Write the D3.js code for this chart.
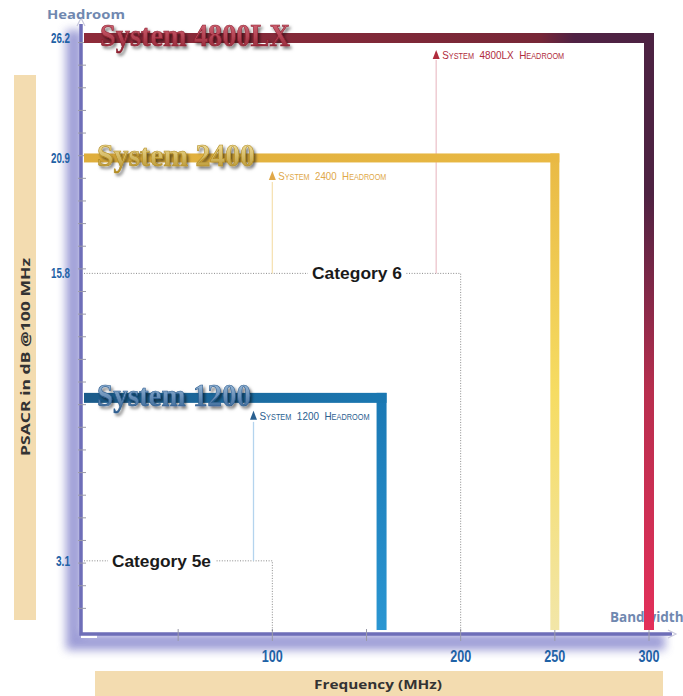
<!DOCTYPE html>
<html><head><meta charset="utf-8">
<script src="https://cdn.jsdelivr.net/npm/d3@7/dist/d3.min.js"></script>
<style>
html,body{margin:0;padding:0;background:#fff;}
svg{display:block;}
</style></head>
<body>
<svg id="chart" width="683" height="696"></svg>
<script>
// ---- data ----
const systems = ["System 4800LX", "System 2400", "System 1200"];
const systemPsacr = [26.2, 20.9, 10.3];
const systemBandwidth = [300, 250, 158];
const headroomFreq = [187, 100, 90];
const headroomLabels = ["System 4800LX Headroom", "System 2400 Headroom", "System 1200 Headroom"];
const categories = ["Category 6", "Category 5e"];
const categoryPsacr = [15.8, 3.1];
const categoryBandwidth = [200, 100];
const yTickLabels = [26.2, 20.9, 15.8, 3.1];
const xTickLabels = [100, 200, 250, 300];
const xMinorTicks = [50, 100, 150, 200, 250, 300];

// ---- styles ----
const sysStyle = [
  {w: 10,
   h: [[0, "#8e2b3a"], [0.8, "#772737"], [0.86, "#502244"], [1, "#4c2242"]],
   v: [[0, "#4c2242"], [0.27, "#4e2242"], [0.6, "#b82e4e"], [1, "#e3305a"]],
   txt: ["#e07080", "#8a1e2e"], label: "#b02c3c", line: "#ecc4cc", labelW: 190},
  {w: 9,
   h: [[0, "#dfae3c"], [1, "#e9b944"]],
   v: [[0, "#e9b944"], [0.5, "#f6dc62"], [1, "#f2e6a8"]],
   txt: ["#fff2b8", "#b08a20"], label: "#e0a848", line: "#f6e2b4", labelW: 158},
  {w: 10,
   h: [[0, "#1b5b8a"], [1, "#1a78b2"]],
   v: [[0, "#1a78b4"], [1, "#2a96d2"]],
   txt: ["#b0cce8", "#2a5a8c"], label: "#2a6090", line: "#b4d4ee", labelW: 154}
];

const svg = d3.select("#chart");
const x = d3.scaleLinear().domain([0, 300]).range([84, 649]);
const y = d3.scaleLinear().domain([0, 26.2]).range([631, 38]);

const defs = svg.append("defs");
const blur = defs.append("filter").attr("id", "glow").attr("x", "-20%").attr("y", "-20%").attr("width", "140%").attr("height", "140%");
blur.append("feGaussianBlur").attr("stdDeviation", 5);
const sh = defs.append("filter").attr("id", "tshadow").attr("x", "-10%").attr("y", "-30%").attr("width", "130%").attr("height", "170%");
sh.append("feDropShadow").attr("dx", 2).attr("dy", 2.5).attr("stdDeviation", 1.6).attr("flood-color", "#000").attr("flood-opacity", 0.55);

function lin(id, vertical, stops) {
  const g = defs.append("linearGradient").attr("id", id)
    .attr("x1", "0%").attr("y1", "0%").attr("x2", vertical ? "0%" : "100%").attr("y2", vertical ? "100%" : "0%");
  stops.forEach(s => g.append("stop").attr("offset", (s[0] * 100) + "%").attr("stop-color", s[1]));
}

const sans = "'Liberation Sans', 'Arimo', 'DejaVu Sans', sans-serif";
const humanist = "'Open Sans', 'DejaVu Sans', sans-serif";

// ---- axis-title boxes ----
svg.append("rect").attr("x", 14).attr("y", 75).attr("width", 22).attr("height", 545).attr("fill", "#f3dcb0");
svg.append("text").attr("transform", "translate(30,357) rotate(-90)")
  .attr("text-anchor", "middle").attr("font-family", humanist)
  .attr("font-weight", "bold").attr("font-size", 13).attr("fill", "#333")
  .attr("textLength", 198).attr("lengthAdjust", "spacingAndGlyphs").text("PSACR in dB @100 MHz");
svg.append("rect").attr("x", 95).attr("y", 671).attr("width", 568).attr("height", 25).attr("fill", "#f3dcb0");
svg.append("text").attr("x", 378).attr("y", 689).attr("text-anchor", "middle")
  .attr("font-family", humanist)
  .attr("font-weight", "bold").attr("font-size", 13).attr("fill", "#333")
  .attr("textLength", 128).attr("lengthAdjust", "spacingAndGlyphs").text("Frequency (MHz)");

// ---- axes with glow ----
const x0 = x(0) - 3, yb = y(0) + 3;
svg.append("path")
  .attr("d", `M${x0},22 L${x0},${yb} L672,${yb}`)
  .attr("fill", "none").attr("stroke", "#8484cc").attr("stroke-width", 16)
  .attr("transform", "translate(-7,8)").attr("filter", "url(#glow)").attr("opacity", 0.8);
svg.append("rect").attr("x", x0).attr("y", 0).attr("width", 16).attr("height", yb + 4).attr("fill", "#fff");
svg.append("rect").attr("x", x0).attr("y", yb - 16).attr("width", 620).attr("height", 16).attr("fill", "#fff");
svg.append("path")
  .attr("d", `M${x0},24 L${x0},${yb} L672,${yb}`)
  .attr("fill", "none").attr("stroke", "#6e6eb8").attr("stroke-width", 3.5);
// arrowheads
svg.append("path").attr("d", `M${x0 - 4},26 L${x0},18 L${x0 + 4},26`).attr("fill", "none").attr("stroke", "#c8c8dc").attr("stroke-width", 1.2);
svg.append("path").attr("d", `M668,${yb - 4} L676,${yb} L668,${yb + 4}`).attr("fill", "none").attr("stroke", "#c8c8dc").attr("stroke-width", 1.2);

// y minor ticks every 1 dB
svg.append("g").selectAll("line").data(d3.range(1, 27)).join("line")
  .attr("x1", x0 - 3).attr("x2", x0 + 5).attr("y1", d => y(d)).attr("y2", d => y(d))
  .attr("stroke", "#9a9aa8").attr("stroke-width", 1);
// x ticks
svg.append("g").selectAll("line").data(xMinorTicks).join("line")
  .attr("x1", d => x(d)).attr("x2", d => x(d)).attr("y1", yb - 5).attr("y2", yb + 7)
  .attr("stroke", "#9a9aa8").attr("stroke-width", 1);

// tick labels (condensed via textLength)
svg.append("g").selectAll("text").data(yTickLabels).join("text")
  .attr("x", 70).attr("y", d => y(d) + 5).attr("text-anchor", "end")
  .attr("font-family", sans).attr("font-weight", "bold").attr("font-size", 14)
  .attr("textLength", d => String(d).length === 4 ? 19 : 14).attr("lengthAdjust", "spacingAndGlyphs")
  .attr("fill", "#1f62a6").text(d => d);
svg.append("g").selectAll("text").data(xTickLabels).join("text")
  .attr("x", d => x(d)).attr("y", 662).attr("text-anchor", "middle")
  .attr("font-family", sans).attr("font-weight", "bold").attr("font-size", 16)
  .attr("textLength", 21).attr("lengthAdjust", "spacingAndGlyphs")
  .attr("fill", "#1f62a6").text(d => d);

// axis end labels
svg.append("text").attr("x", 47).attr("y", 19)
  .attr("font-family", humanist).attr("font-weight", "bold")
  .attr("font-size", 13).attr("fill", "#7088b0").attr("textLength", 78).attr("lengthAdjust", "spacingAndGlyphs").text("Headroom");
svg.append("text").attr("x", 610).attr("y", 622)
  .attr("font-family", humanist).attr("font-weight", "bold")
  .attr("font-size", 13.5).attr("fill", "#7088b0").text("Bandwidth");

// ---- category dotted limits ----
categories.forEach((c, i) => {
  const cy = y(categoryPsacr[i]), cx = x(categoryBandwidth[i]);
  svg.append("path").attr("d", `M${x0 + 3},${cy} L${cx},${cy} L${cx},${yb - 2}`)
    .attr("fill", "none").attr("stroke", "#8a8a8a").attr("stroke-width", 1).attr("stroke-dasharray", "1,1.6");
});

// ---- headroom vertical lines ----
systems.forEach((s, i) => {
  const hx = x(headroomFreq[i]);
  const lowPsacr = i === 2 ? categoryPsacr[1] : categoryPsacr[0];
  const top = y(systemPsacr[i]) + (i === 0 ? 22 : 24);
  svg.append("line").attr("x1", hx).attr("x2", hx).attr("y1", top).attr("y2", y(lowPsacr))
    .attr("stroke", sysStyle[i].line).attr("stroke-width", 1.3);
});

// ---- category labels with white background ----
const catLabelX = [312, 112];
const catLabelW = [90, 99];
categories.forEach((c, i) => {
  const cy = y(categoryPsacr[i]);
  const t = svg.append("text").attr("x", catLabelX[i]).attr("y", cy + 6)
    .attr("font-family", sans).attr("font-weight", "bold")
    .attr("font-size", 16.5).attr("fill", "#1a1a1a")
    .attr("textLength", catLabelW[i]).attr("lengthAdjust", "spacingAndGlyphs").text(c);
  svg.insert("rect", () => t.node()).attr("x", catLabelX[i] - 4).attr("y", cy - 8).attr("width", catLabelW[i] + 8).attr("height", 18).attr("fill", "#fff");
});

// ---- system bars ----
systems.forEach((s, i) => {
  const st = sysStyle[i];
  const sy = y(systemPsacr[i]), sx = x(systemBandwidth[i]), w = st.w;
  lin("h" + i, false, st.h);
  lin("v" + i, true, st.v);
  svg.append("rect").attr("x", sx - w / 2).attr("y", sy - w / 2).attr("width", w).attr("height", y(0) - (sy - w / 2) - 1)
    .attr("fill", `url(#v${i})`);
  svg.append("rect").attr("x", x(0)).attr("y", sy - w / 2).attr("width", sx + w / 2 - x(0)).attr("height", w)
    .attr("fill", `url(#h${i})`);
});

// ---- headroom labels (manual small caps) ----
const lens = [122, 108, 110];
systems.forEach((s, i) => {
  const st = sysStyle[i];
  const hx = x(headroomFreq[i]);
  const ly = y(systemPsacr[i]) + (i === 0 ? 21 : 22);
  svg.append("path").attr("d", `M${hx - 3.5},${ly} L${hx},${ly - 9} L${hx + 3.5},${ly} Z`).attr("fill", st.label);
  const t = svg.append("text").attr("x", hx + 6).attr("y", ly)
    .attr("font-family", sans).attr("fill", st.label)
    .attr("textLength", lens[i]).attr("lengthAdjust", "spacingAndGlyphs");
  headroomLabels[i].split("").forEach(ch => {
    const small = ch >= "a" && ch <= "z";
    t.append("tspan").attr("font-size", small ? 8.5 : 11.5).text(small ? ch.toUpperCase() : (ch === " " ? "\u00a0\u00a0" : ch));
  });
});

// ---- system name labels (condensed with a horizontal scale) ----
const nameX = [100, 97, 97];
systems.forEach((s, i) => {
  const st = sysStyle[i];
  const sy = y(systemPsacr[i]);
  lin("t" + i, true, [[0, st.txt[0]], [1, st.txt[1]]]);
  const g = svg.append("g").attr("filter", "url(#tshadow)");
  const t = g.append("text").attr("x", 0).attr("y", 0)
    .attr("font-family", "'Liberation Serif', 'DejaVu Serif', serif")
    .attr("font-size", 32).attr("font-weight", "bold")
    .attr("fill", `url(#t${i})`).attr("stroke", st.txt[1]).attr("stroke-width", 0.6)
    .text(s);
  const natural = t.node().getComputedTextLength();
  t.attr("transform", `translate(${nameX[i]},${sy + 8}) scale(${st.labelW / natural},1)`);
});
</script>
</body></html>
